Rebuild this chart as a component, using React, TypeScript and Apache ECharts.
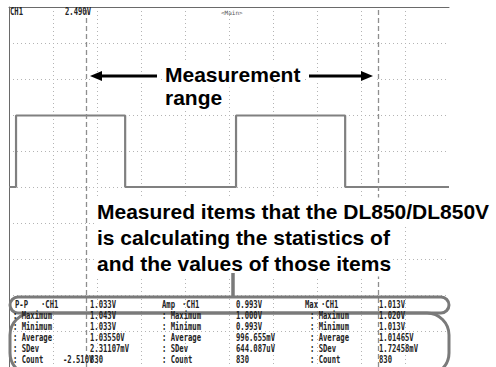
import React, { useEffect, useRef } from "react";
import * as echarts from "echarts";

// Screen scale (oscilloscope): 10 horizontal divisions, 10 vertical divisions
const screenTopV = 2.49;
const screenBottomV = -2.51;
const voltsPerDiv = 0.5;
const timeDivs = 10;

// Square wave (time in divisions, levels in volts)
const initialLevelV = -0.01;
const edgeTimes = [0.16, 2.64, 5.16, 7.64];
const edgeLevelsV = [0.983, -0.01, 0.983, -0.01];

// Measurement range cursors (divisions)
const cursorTimes = [1.75, 8.39];

// Statistics table
const statLabels = ["Maximum", "Minimum", "Average", "SDev", "Count"];
const measureNames = ["P-P", "Amp", "Max"];
const measureValues = ["1.033V", "0.993V", "1.013V"];
const ppStats = ["1.043V", "1.033V", "1.03550V", "2.31107mV", "830"];
const ampStats = ["1.000V", "0.993V", "996.655mV", "644.087uV", "830"];
const maxStats = ["1.020V", "1.013V", "1.01465V", "1.72458mV", "830"];

const labelTop = "Measurement";
const labelTop2 = "range";
const labelLines = [
  "Measured items that the DL850/DL850V",
  "is calculating the statistics of",
  "and the values of those items",
];

const toDiv = (v: number) => (v - screenBottomV) / voltsPerDiv;

export default function App() {
  const ref = useRef<HTMLDivElement>(null);
  useEffect(() => {
    if (!ref.current) return;
    const chart = echarts.init(ref.current, undefined, { renderer: "svg" });

    const pts: number[][] = [[0, toDiv(initialLevelV)]];
    let prev = initialLevelV;
    edgeTimes.forEach((t, i) => {
      pts.push([t, toDiv(prev)]);
      pts.push([t, toDiv(edgeLevelsV[i])]);
      prev = edgeLevelsV[i];
    });
    pts.push([timeDivs, toDiv(prev)]);

    const mono = "'DejaVu Sans Mono', monospace";
    const sx = 0.72;
    const tColor = "#222";
    const small = (text: string, x: number, y: number, extra: any = {}) => ({
      type: "text",
      x,
      y,
      scaleX: sx,
      z: 110,
      style: {
        text,
        fill: tColor,
        font: `bold 10px ${mono}`,
        verticalAlign: "middle",
        ...extra,
      },
    });

    const rowYs = [305, 316, 327, 338, 349, 360];
    const groupCols = [
      { name: 13, ch: 41, val: 90, label: 13 },
      { name: 160, ch: 182, val: 236, label: 162 },
      { name: 303, ch: 321, val: 379, label: 310 },
    ];
    const statsCols = [ppStats, ampStats, maxStats];

    const tableTexts: any[] = [];
    groupCols.forEach((c, gi) => {
      tableTexts.push(small(measureNames[gi], c.name + 2, rowYs[0]));
      tableTexts.push(small("·CH1", c.ch, rowYs[0]));
      tableTexts.push(small(measureValues[gi], c.val, rowYs[0]));
      statLabels.forEach((lab, ri) => {
        tableTexts.push(small(": " + lab, c.label, rowYs[ri + 1]));
        tableTexts.push(small(statsCols[gi][ri], c.val, rowYs[ri + 1]));
      });
    });

    const boldFont = "bold 21px 'Liberation Sans', Arial, sans-serif";
    const bold = (text: string, x: number, y: number) => ({
      type: "text",
      x,
      y,
      z: 105,
      style: {
        text,
        fill: "#000",
        font: boldFont,
        verticalAlign: "middle",
        backgroundColor: "#fff",
        padding: [3, 2],
      },
    });

    const gridLine = { type: [1, 3], color: "#b4b4b4", width: 1 };

    const option: any = {
      animation: false,
      grid: { left: 9, top: 7, width: 440, height: 360 },
      xAxis: {
        type: "value",
        min: 0,
        max: timeDivs,
        interval: 1,
        position: "top",
        axisLine: { show: true, onZero: false, lineStyle: { color: "#6a6a6a", width: 1 } },
        axisTick: { show: false },
        axisLabel: { show: false },
        splitLine: { show: true, showMinLine: false, showMaxLine: false, lineStyle: gridLine },
      },
      yAxis: {
        type: "value",
        min: 0,
        max: (screenTopV - screenBottomV) / voltsPerDiv,
        interval: 1,
        axisLine: { show: true, onZero: false, lineStyle: { color: "#6a6a6a", width: 1 } },
        axisTick: { show: false },
        axisLabel: { show: false },
        splitLine: { show: true, showMinLine: false, showMaxLine: false, lineStyle: gridLine },
      },
      series: [
        {
          type: "line",
          data: pts,
          symbol: "none",
          lineStyle: { color: "#808080", width: 2.2 },
          markLine: {
            silent: true,
            symbol: "none",
            label: { show: false },
            lineStyle: { color: "#8e8e8e", type: [5, 3], width: 1.3 },
            data: cursorTimes.map((t) => ({ xAxis: t })),
          },
        },
      ],
      graphic: [
        small("CH1", 10, 12),
        small("2.490V", 65, 12),
        { type: "text", x: 221, y: 12, z: 110, style: { text: "<Main>", fill: "#555", font: `6px ${mono}`, verticalAlign: "middle" } },
        // arrows
        { type: "rect", z: 104, shape: { x: 90, y: 72, width: 68, height: 9 }, style: { fill: "#fff" } },
        { type: "rect", z: 104, shape: { x: 307, y: 72, width: 67, height: 9 }, style: { fill: "#fff" } },
        { type: "line", z: 106, shape: { x1: 157, y1: 76, x2: 99, y2: 76 }, style: { stroke: "#000", lineWidth: 3 } },
        { type: "polygon", z: 106, shape: { points: [[90, 76], [102, 71], [102, 81]] }, style: { fill: "#000" } },
        { type: "line", z: 106, shape: { x1: 309, y1: 76, x2: 364, y2: 76 }, style: { stroke: "#000", lineWidth: 3 } },
        { type: "polygon", z: 106, shape: { points: [[373, 76], [361, 71], [361, 81]] }, style: { fill: "#000" } },
        bold(labelTop, 163, 74),
        bold(labelTop2, 163, 97),
        ...labelLines.map((l, i) => bold(l, 95, 211 + i * 26)),
        // connector and highlight outlines
        { type: "line", z: 107, shape: { x1: 233, y1: 273, x2: 233, y2: 297 }, style: { stroke: "#7a7a7a", lineWidth: 3.5 } },
        { type: "rect", z: 107, shape: { x: 10, y: 297, width: 439, height: 16, r: 8 }, style: { fill: "none", stroke: "#7a7a7a", lineWidth: 3 } },
        { type: "rect", z: 107, shape: { x: 10, y: 313, width: 439, height: 62, r: 22 }, style: { fill: "none", stroke: "#7a7a7a", lineWidth: 3 } },
        ...tableTexts,
        small("-2.510V", 63, 360),
      ],
    };
    chart.setOption(option);
    return () => chart.dispose();
  }, []);
  return (
    <div
      ref={ref}
      style={{ position: "absolute", left: 0, top: 0, width: 496, height: 367, background: "#fff" }}
    />
  );
}
